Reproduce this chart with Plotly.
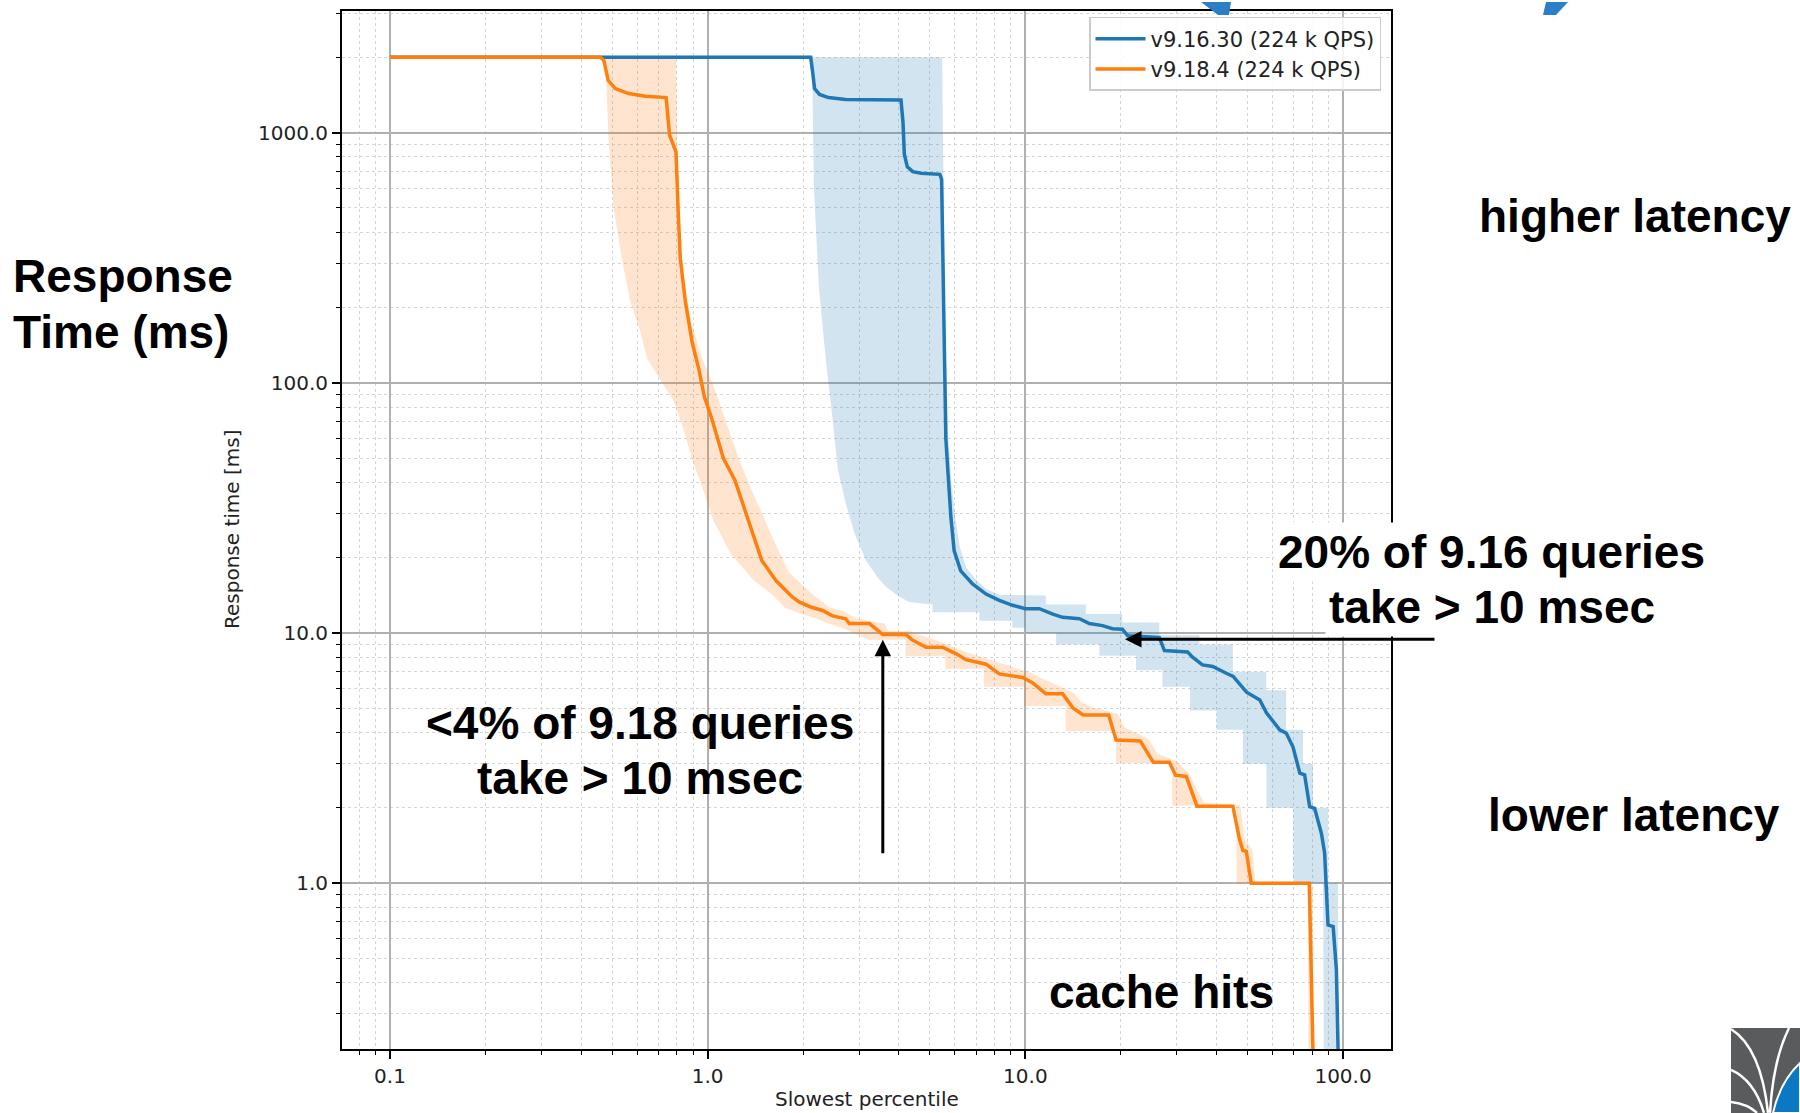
import plotly.graph_objects as go

# ---------------- data ----------------
series_names = ["v9.16.30 (224 k QPS)", "v9.18.4 (224 k QPS)"]

blue_x = [0.1, 2.11, 2.14, 2.17, 2.25, 2.4, 2.72, 4.06, 4.12, 4.16, 4.25, 4.42, 4.7, 5.38, 5.45, 5.5,
          5.56, 5.62, 5.7, 5.83, 5.97, 6.26, 6.82, 7.52, 8.28, 9.12, 10.0, 11.07, 12.2, 13.1, 14.8,
          15.9, 17.5, 18.8, 20.2, 21.0, 26.4, 27.4, 32.4, 33.6, 36.1, 38.9, 42.9, 45.1, 49.7, 54.7,
          57.4, 63.2, 66.3, 69.6, 73.1, 75.7, 78.5, 81.4, 85.5, 87.5, 89.7, 93.1, 95.3, 96.6]
blue_y = [2000, 2000, 1750, 1500, 1420, 1380, 1355, 1350, 1100, 820, 730, 698, 688, 681, 650, 300,
          110, 60, 45, 29, 21.3, 17.7, 15.7, 14.3, 13.5, 12.9, 12.5, 12.5, 11.9, 11.55, 11.4,
          10.9, 10.7, 10.4, 10.35, 9.75, 9.6, 8.5, 8.4, 8.0, 7.45, 7.35, 6.9, 6.7, 5.8, 5.4,
          4.8, 4.1, 3.97, 3.5, 2.75, 2.71, 2.02, 1.99, 1.58, 1.32, 0.68, 0.67, 0.45, 0.2]

blue_lo_x = [2.13, 2.16, 2.24, 2.36, 2.45, 2.57, 2.72, 2.9, 3.15, 3.44, 3.64, 3.96, 4.3, 5.1, 5.1,
             7.17, 7.17, 9.1, 9.1, 10.0, 10.0, 12.5, 12.5, 17.1, 17.1, 22.3, 22.3, 27.0, 27.0,
             33.0, 33.0, 40.0, 40.0, 48.4, 48.4, 57.4, 57.4, 69.7, 69.7, 86.5, 87.0]
blue_lo_y = [2000, 600, 240, 120, 80, 45, 33, 25, 19.5, 16.6, 15.3, 14.1, 13.3, 13.0, 12.1,
             12.1, 11.2, 11.2, 10.5, 10.5, 10.0, 10.0, 9.0, 9.0, 8.1, 8.1, 7.1, 7.1, 6.1,
             6.1, 4.9, 4.9, 4.1, 4.1, 3.0, 3.0, 2.0, 2.0, 1.0, 1.0, 0.2]
blue_hi_x = [5.47, 5.52, 5.6, 5.72, 5.85, 6.0, 6.19, 6.5, 7.0, 7.52, 8.3, 11.6, 11.6, 15.5, 15.5,
             20.2, 20.2, 26.4, 26.4, 35.3, 35.3, 45.0, 45.0, 57.3, 57.3, 66.2, 66.2, 74.8, 74.8,
             80.4, 80.4, 89.7, 89.7, 96.4, 96.6]
blue_hi_y = [2000, 700, 150, 60, 40, 30, 22.6, 18.3, 16.3, 15.0, 14.2, 14.1, 13.0, 13.0, 11.9,
             11.9, 11.0, 11.0, 9.8, 9.8, 9.0, 9.0, 7.0, 7.0, 5.9, 5.9, 4.1, 4.1, 3.0,
             3.0, 2.0, 2.0, 1.0, 1.0, 0.2]

orange_x = [0.1, 0.459, 0.471, 0.486, 0.512, 0.564, 0.637, 0.74, 0.759, 0.772, 0.795, 0.807, 0.82,
            0.851, 0.893, 0.937, 0.976, 1.03, 1.12, 1.22, 1.35, 1.48, 1.64, 1.85, 1.94, 2.11, 2.3,
            2.47, 2.72, 2.79, 3.23, 3.56, 4.21, 4.41, 4.87, 5.49, 6.06, 6.5, 7.52, 8.28, 9.81,
            10.55, 11.6, 13.1, 14.1, 15.2, 18.3, 19.3, 23.0, 24.0, 25.3, 28.4, 29.7, 32.1, 33.4,
            34.7, 45.0, 47.2, 48.4, 49.6, 51.4, 78.3, 79.0, 80.5]
orange_y = [2000, 2000, 1946, 1618, 1500, 1432, 1397, 1380, 975, 918, 838, 497, 314,
            211, 146, 114, 88, 72, 50, 40.6, 27.3, 19.5, 16.2, 13.9, 13.3, 12.7, 12.3,
            11.7, 11.4, 10.9, 10.9, 9.85, 9.85, 9.37, 8.77, 8.77, 8.25, 7.82, 7.5, 6.86, 6.64,
            6.31, 5.72, 5.72, 5.02, 4.7, 4.7, 3.73, 3.7, 3.4, 3.04, 3.04, 2.7, 2.67, 2.34,
            2.03, 2.03, 1.5, 1.35, 1.34, 1.0, 1.0, 0.6, 0.2]

orange_lo_x = [0.476, 0.488, 0.506, 0.537, 0.571, 0.614, 0.644, 0.71, 0.78, 0.84, 0.9, 0.95, 1.04,
               1.18, 1.39, 1.58, 1.75, 1.95, 2.2, 2.45, 2.7, 3.2, 4.2, 4.2, 5.6, 5.6, 7.4, 7.4,
               9.9, 9.9, 13.4, 13.4, 19.3, 19.3, 29.0, 29.0, 46.2, 46.2, 77.5, 77.8]
orange_lo_y = [2000, 918, 497, 314, 211, 160, 125, 103, 85, 65, 48, 40, 28.3,
               20.8, 16.3, 14.4, 12.6, 12.0, 11.4, 10.8, 10.4, 9.4, 9.4, 8.07, 8.07, 7.2, 7.2, 6.1,
               6.1, 5.1, 5.1, 4.06, 4.06, 3.02, 3.02, 2.04, 2.04, 1.0, 1.0, 0.2]
orange_hi_x = [0.795, 0.8, 0.82, 0.851, 0.893, 0.96, 1.06, 1.15, 1.25, 1.39, 1.58, 1.8, 2.12, 2.41,
               2.75, 2.9, 3.3, 3.6, 3.7, 4.3, 4.6, 5.2, 5.8, 6.5, 7.8, 8.6, 10.5, 11.2, 12.2,
               14.2, 15.0, 16.2, 19.5, 20.5, 24.5, 26.0, 30.0, 33.0, 34.5, 36.5, 47.5, 49.0,
               51.8, 53.0, 80.0, 80.8]
orange_hi_y = [2000, 1070, 363, 229, 170, 126, 92, 68, 50, 36, 25, 17.5, 14.4, 12.7,
               12.0, 11.5, 11.1, 10.9, 10.2, 10.2, 9.85, 9.4, 8.9, 8.4, 7.8, 7.5, 6.9, 6.6, 6.3,
               5.75, 5.3, 5.05, 4.75, 4.2, 3.75, 3.3, 3.06, 2.72, 2.4, 2.1, 2.05, 1.5,
               1.36, 1.0, 1.0, 0.2]

x_tick_vals = [0.1, 1, 10, 100]
x_tick_text = ["0.1", "1.0", "10.0", "100.0"]
y_tick_vals = [1, 10, 100, 1000]
y_tick_text = ["1.0", "10.0", "100.0", "1000.0"]

# ---------------- geometry ----------------
W, H = 1800, 1113
ML, MR, MT, MB = 342, 409, 9, 64
PW, PH = W - ML - MR, H - MT - MB
X_RANGE = [-1.151, 2.151]
Y_RANGE = [-0.663, 3.486]


def px(x):
    return (x - ML) / PW


def py(y):
    return 1 - (y - MT) / PH


def path(cmds):
    out = []
    for c in cmds:
        op, pts = c[0], c[1:]
        out.append(op + " " + " ".join(f"{px(a):.5f},{py(b):.5f}" for a, b in pts))
    return " ".join(out).strip()


def polygon(points):
    cmds = [("M", points[0])] + [("L", p) for p in points[1:]] + [("Z",)]
    return path(cmds)


BLUE = "#1f77b4"
ORANGE = "#ff7f0e"
TICK_FONT = dict(family="DejaVu Sans", size=20, color="#222222")
BIG = "Liberation Sans, Arial, sans-serif"

fig = go.Figure()
fig.add_trace(go.Scatter(x=blue_lo_x + blue_hi_x[::-1], y=blue_lo_y + blue_hi_y[::-1],
                         fill="toself", fillcolor="rgba(31,119,180,0.2)", mode="lines",
                         line=dict(width=0), showlegend=False, hoverinfo="skip"))
fig.add_trace(go.Scatter(x=orange_lo_x + orange_hi_x[::-1], y=orange_lo_y + orange_hi_y[::-1],
                         fill="toself", fillcolor="rgba(255,127,14,0.2)", mode="lines",
                         line=dict(width=0), showlegend=False, hoverinfo="skip"))
fig.add_trace(go.Scatter(x=blue_x, y=blue_y, mode="lines", name=series_names[0],
                         line=dict(color=BLUE, width=3.5)))
fig.add_trace(go.Scatter(x=orange_x, y=orange_y, mode="lines", name=series_names[1],
                         line=dict(color=ORANGE, width=3.5)))


def minor_vals(lo, hi):
    vals = []
    for e in range(-2, 4):
        for m in range(2, 10):
            v = m * 10 ** e
            if lo <= v <= hi:
                vals.append(v)
    return vals


def axis(rng, tv, tt):
    return dict(type="log", range=rng, tickmode="array", tickvals=tv, ticktext=tt,
                showline=True, linecolor="black", linewidth=2, mirror=True,
                ticks="outside", ticklen=8, tickwidth=1.5, tickcolor="black",
                showgrid=True, gridcolor="#b0b0b0", gridwidth=1.5, zeroline=False,
                tickfont=TICK_FONT,
                minor=dict(tickmode="array",
                           tickvals=minor_vals(10 ** rng[0], 10 ** rng[1]),
                           ticks="outside", ticklen=4, tickwidth=1, tickcolor="black",
                           showgrid=True, gridcolor="#d6d6d6", gridwidth=1, griddash="dot"))


fig.update_layout(
    width=W, height=H,
    margin=dict(l=ML, r=MR, t=MT, b=MB, pad=0),
    paper_bgcolor="white", plot_bgcolor="white",
    xaxis=axis(X_RANGE, x_tick_vals, x_tick_text),
    yaxis=axis(Y_RANGE, y_tick_vals, y_tick_text),
    showlegend=True,
    legend=dict(x=px(1381), xanchor="right", y=py(15), yanchor="top",
                bgcolor="rgba(255,255,255,0.85)", bordercolor="#cccccc", borderwidth=1.5,
                font=dict(family="DejaVu Sans", size=21, color="#222222"),
                itemwidth=50, tracegroupgap=0),
)

ann = []
# axis titles
ann.append(dict(text="Response time [ms]", x=px(232), y=0.5, xref="paper", yref="paper",
                textangle=-90, showarrow=False, font=TICK_FONT, xanchor="center", yanchor="middle"))
ann.append(dict(text="Slowest percentile", x=0.5, y=py(1099), xref="paper", yref="paper",
                showarrow=False, font=TICK_FONT, xanchor="center", yanchor="middle"))


def big(text, x, y, xanchor="center", bg=None):
    d = dict(text="<b>" + text + "</b>", x=px(x), y=py(y), xref="paper", yref="paper",
             showarrow=False, xanchor=xanchor, yanchor="middle",
             font=dict(family=BIG, size=46, color="black"))
    if bg:
        d.update(bgcolor=bg, borderpad=3)
    return d


ann.append(big("Response", 11, 275, "left"))
ann.append(big("Time (ms)", 11, 331, "left"))
ann.append(big("higher latency", 1477, 214, "left"))
ann.append(big("lower latency", 1486, 815, "left"))
ann.append(big("20% of 9.16 queries", 1491, 551, bg="white"))
ann.append(big("take &gt; 10 msec", 1492, 606, bg="white"))
ann.append(big("&lt;4% of 9.18 queries", 640, 722))
ann.append(big("take &gt; 10 msec", 640, 777))
ann.append(big("cache hits", 1161, 992))

# arrows
ann.append(dict(text="", x=px(882.8), y=py(639), xref="paper", yref="paper", showarrow=True,
                ax=0, ay=215, arrowhead=2, arrowsize=1.1, arrowwidth=3, arrowcolor="black",
                standoff=0))
ann.append(dict(text="", x=px(1125), y=py(638.5), xref="paper", yref="paper", showarrow=True,
                ax=311, ay=0, arrowhead=2, arrowsize=1.1, arrowwidth=3, arrowcolor="black",
                standoff=0))
fig.update_layout(annotations=ann)

shapes = []
# blue title fragments at top edge
shapes.append(dict(type="path", xref="paper", yref="paper", layer="above",
                   path=polygon([(1201, 0), (1231, 0), (1229, 13), (1218, 13)]),
                   fillcolor="#2b7fc6", line=dict(width=0)))
shapes.append(dict(type="path", xref="paper", yref="paper", layer="above",
                   path=polygon([(1546, 0), (1568, 0), (1556, 13), (1543, 13)]),
                   fillcolor="#2b7fc6", line=dict(width=0)))
# logo in the corner
shapes.append(dict(type="rect", xref="paper", yref="paper", layer="above",
                   x0=px(1731), x1=px(1800), y0=py(1113), y1=py(1028),
                   fillcolor="#5a5b5d", line=dict(width=0)))
shapes.append(dict(type="path", xref="paper", yref="paper", layer="above",
                   path=path([("M", (1800, 1063)), ("Q", (1780, 1082), (1773, 1113)),
                              ("L", (1800, 1113)), ("Z",)]),
                   fillcolor="#0a78c2", line=dict(color="white", width=2)))
for a, c, b in [((1731, 1029), (1761, 1048), (1768, 1113)),
                ((1731, 1070), (1754, 1080), (1764, 1113)),
                ((1731, 1102), (1748, 1104), (1757, 1113)),
                ((1789, 1028), (1773, 1060), (1770, 1113))]:
    shapes.append(dict(type="path", xref="paper", yref="paper", layer="above",
                       path=path([("M", a), ("Q", c, b)]),
                       line=dict(color="white", width=2.5)))
fig.update_layout(shapes=shapes)

fig.write_html("out.html", config={"displayModeBar": False})
with open("out.html", "r", encoding="utf-8") as f:
    html = f.read()
html = html.replace("<body>", '<body style="margin:0;padding:0;overflow:hidden">', 1)
with open("out.html", "w", encoding="utf-8") as f:
    f.write(html)
